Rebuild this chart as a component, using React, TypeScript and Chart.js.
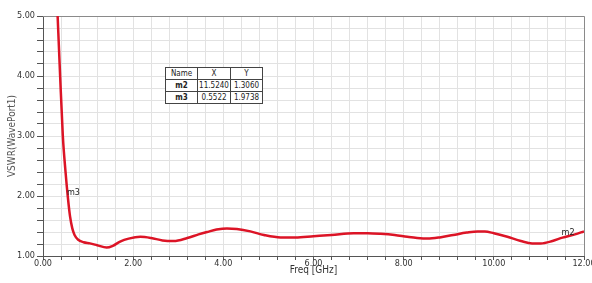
import React, { useEffect, useRef } from "react";
import { Chart, registerables } from "chart.js";

Chart.register(...registerables);

const freqGHz = [0.32, 0.38, 0.44, 0.5, 0.5522, 0.6, 0.65, 0.7, 0.78, 0.9, 1.04, 1.2, 1.41, 1.55, 1.71, 1.9, 2.16, 2.4, 2.65, 2.9, 3.2, 3.45, 3.64, 3.85, 4.08, 4.3, 4.6, 4.9, 5.27, 5.6, 6.0, 6.4, 6.89, 7.2, 7.49, 7.8, 8.08, 8.3, 8.53, 8.8, 9.1, 9.4, 9.64, 9.8, 10.0, 10.3, 10.6, 10.85, 11.04, 11.3, 11.524, 11.8, 12.0];
const vswr = [5.08, 4.0, 3.0, 2.4, 1.9738, 1.66, 1.46, 1.35, 1.27, 1.23, 1.21, 1.18, 1.14, 1.17, 1.24, 1.29, 1.32, 1.3, 1.26, 1.25, 1.3, 1.36, 1.4, 1.44, 1.46, 1.45, 1.41, 1.35, 1.31, 1.31, 1.33, 1.35, 1.38, 1.38, 1.37, 1.35, 1.32, 1.3, 1.29, 1.31, 1.35, 1.39, 1.41, 1.41, 1.38, 1.32, 1.25, 1.21, 1.21, 1.25, 1.306, 1.36, 1.41];

const markerNames = ["m2", "m3"];
const markerX = [11.524, 0.5522];
const markerY = [1.306, 1.9738];
const markerXText = ["11.5240", "0.5522"];
const markerYText = ["1.3060", "1.9738"];

const xTitle = "Freq [GHz]";
const yTitle = "VSWR(WavePort1)";

const FONT = "'DejaVu Sans Condensed', 'Liberation Sans Narrow', 'Liberation Sans', sans-serif";

export default function App() {
  const canvasRef = useRef<HTMLCanvasElement | null>(null);

  useEffect(() => {
    document.body.style.margin = "0";
    const canvas = canvasRef.current;
    if (!canvas) return;

    const framePlugin = {
      id: "frame",
      beforeDatasetsDraw(chart: any) {
        const { ctx, chartArea } = chart;
        ctx.save();
        ctx.strokeStyle = "#8a8a8a";
        ctx.lineWidth = 1;
        ctx.beginPath();
        ctx.moveTo(chartArea.left, chartArea.top + 0.5);
        ctx.lineTo(chartArea.right + 0.5, chartArea.top + 0.5);
        ctx.lineTo(chartArea.right + 0.5, chartArea.bottom);
        ctx.stroke();
        ctx.restore();
      },
      afterDatasetsDraw(chart: any) {
        const { ctx, scales } = chart;
        ctx.save();
        ctx.fillStyle = "#222";
        ctx.font = `9px ${FONT}`;
        ctx.textAlign = "left";
        ctx.textBaseline = "bottom";
        markerNames.forEach((n, i) => {
          const px = scales.x.getPixelForValue(markerX[i]);
          const py = scales.y.getPixelForValue(markerY[i]);
          ctx.fillText(n, px - 1, py);
        });
        ctx.restore();
      },
    };

    const chart = new Chart(canvas, {
      type: "line",
      data: {
        labels: freqGHz,
        datasets: [
          {
            data: freqGHz.map((f, i) => ({ x: f, y: vswr[i] })),
            borderColor: "#dc1426",
            borderWidth: 2.5,
            pointRadius: 0,
            cubicInterpolationMode: "monotone",
            fill: false,
          },
        ],
      },
      options: {
        animation: false,
        responsive: true,
        maintainAspectRatio: false,
        layout: { padding: { top: 16, right: 8, left: 0, bottom: 0 } },
        plugins: { legend: { display: false }, tooltip: { enabled: false } },
        scales: {
          x: {
            type: "linear",
            min: 0,
            max: 12,
            afterFit(scale: any) {
              scale.height = 27;
              scale.paddingLeft = 0;
              scale.paddingRight = 0;
            },
            ticks: {
              stepSize: 0.4,
              autoSkip: false,
              maxRotation: 0,
              padding: -2,
              color: "#333",
              font: { family: FONT, size: 9 },
              callback: (v: any) => {
                const n = Number(v);
                return Math.abs(n / 2 - Math.round(n / 2)) < 1e-6 ? n.toFixed(2) : "";
              },
            },
            grid: {
              color: "#e2e2e2",
              tickColor: "#555",
              tickLength: 4,
            },
            border: { color: "#555", width: 1 },
            title: {
              display: true,
              text: xTitle,
              color: "#333",
              font: { family: FONT, size: 10 },
              padding: { top: 0, bottom: 7 },
            },
          },
          y: {
            min: 1,
            max: 5,
            afterFit(scale: any) {
              scale.width = 43;
              scale.paddingTop = 0;
              scale.paddingBottom = 0;
            },
            ticks: {
              stepSize: 0.2,
              autoSkip: false,
              padding: 2,
              color: "#333",
              font: { family: FONT, size: 9 },
              callback: (v: any) => {
                const n = Number(v);
                return Math.abs(n - Math.round(n)) < 1e-6 ? n.toFixed(2) : "";
              },
            },
            grid: {
              color: "#e2e2e2",
              tickColor: "#555",
              tickLength: 6,
            },
            border: { color: "#555", width: 1 },
            title: {
              display: true,
              text: yTitle,
              color: "#555",
              font: { family: FONT, size: 10 },
              padding: { top: 6, bottom: 0 },
            },
          },
        },
      },
      plugins: [framePlugin],
    } as any);

    return () => chart.destroy();
  }, []);

  const cell: React.CSSProperties = {
    border: "1px solid #444",
    padding: 0,
    height: 11,
    lineHeight: "11px",
    textAlign: "center",
    fontFamily: FONT,
    fontSize: 8,
    color: "#222",
  };

  return (
    <div style={{ position: "fixed", left: 0, top: 0, width: 592, height: 283, background: "#fff" }}>
      <canvas ref={canvasRef} />
      <table
        style={{
          position: "absolute",
          left: 165,
          top: 67,
          borderCollapse: "collapse",
          background: "#fff",
          tableLayout: "fixed",
        }}
      >
        <tbody>
          <tr>
            <td style={{ ...cell, width: 31 }}>Name</td>
            <td style={{ ...cell, width: 32 }}>X</td>
            <td style={{ ...cell, width: 31 }}>Y</td>
          </tr>
          {markerNames.map((n, i) => (
            <tr key={n}>
              <td style={{ ...cell, fontWeight: "bold" }}>{n}</td>
              <td style={cell}>{markerXText[i]}</td>
              <td style={cell}>{markerYText[i]}</td>
            </tr>
          ))}
        </tbody>
      </table>
    </div>
  );
}
